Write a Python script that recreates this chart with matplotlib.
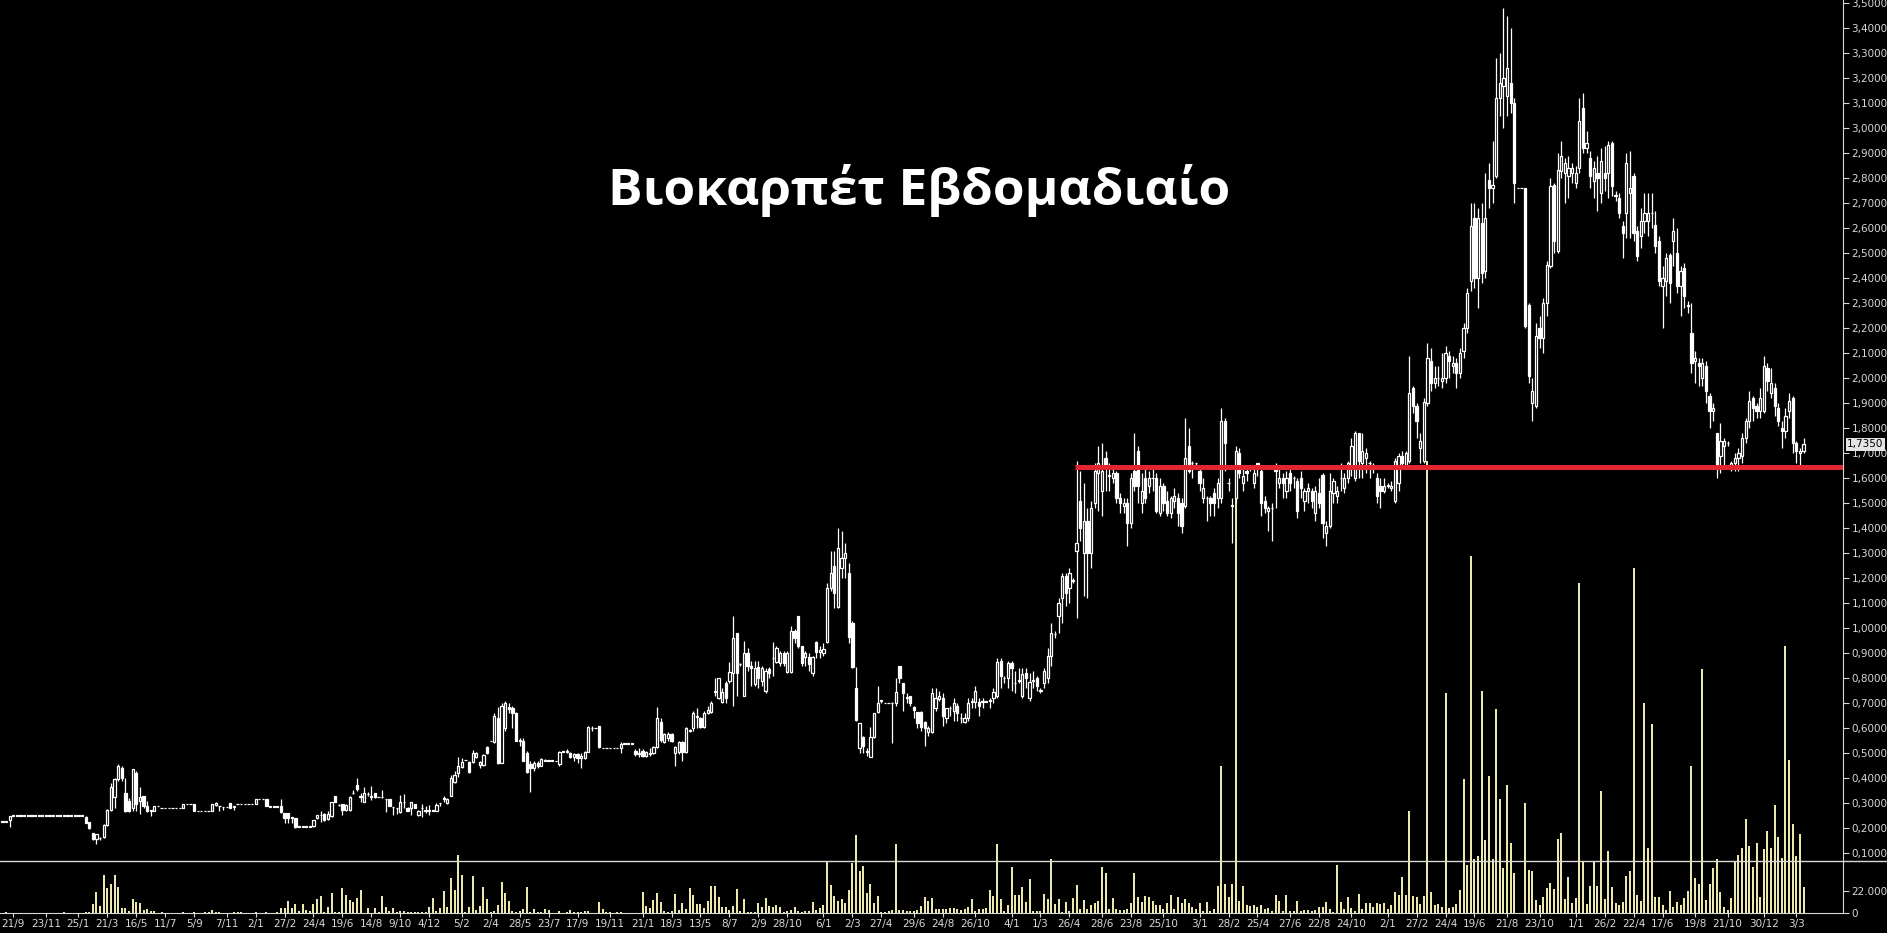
import numpy as np
import matplotlib.pyplot as plt

# weekly candles, first week starts 2015-08-31
start = np.datetime64('2015-08-31')

opens = [
    .225, .225, .232, .25, .25, .25, .25, .25, .25, .25,
    .25, .25, .25, .25, .25, .25, .25, .25, .25, .25,
    .25, .25, .25, .245, .225, .18, .155, .16, .163, .212,
    .272, .323, .396, .44, .34, .31, .281, .42, .31, .328,
    .29, .27, .27, .288, .28, .28, .28, .28, .28, .28,
    .28, .295, .295, .295, .268, .268, .268, .268, .27, .292,
    .288, .283, .283, .30, .285, .295, .295, .295, .295, .295,
    .295, .315, .315, .315, .285, .285, .285, .288, .262, .26,
    .241, .241, .205, .205, .205, .205, .208, .24, .252, .258,
    .235, .248, .328, .292, .295, .272, .272, .339, .372, .325,
    .305, .335, .325, .339, .323, .323, .316, .316, .283, .279,
    .265, .303, .281, .279, .295, .252, .279, .27, .27, .27,
    .27, .30, .318, .30, .33, .385, .419, .443, .472, .465,
    .465, .485, .452, .452, .525, .548, .545, .64, .46, .60,
    .685, .68, .66, .55, .55, .50, .455, .44, .46, .45,
    .47, .47, .47, .468, .455, .505, .505, .50, .485, .495,
    .48, .48, .505, .60, .60, .608, .519, .519, .519, .519,
    .519, .52, .538, .538, .538, .51, .495, .51, .49, .50,
    .50, .525, .625, .545, .56, .575, .50, .505, .545, .505,
    .59, .60, .645, .64, .605, .66, .665, .745, .72, .705,
    .78, .79, .82, .98, .856, .73, .90, .85, .775, .845,
    .79, .75, .835, .88, .865, .86, .90, .825, .825, .99,
    1.05, .93, .885, .885, .82, .945, .905, .90, .945, 1.16,
    1.25, 1.085, 1.24, 1.28, 1.22, 1.02, .762, .52, .565, .505,
    .485, .565, .665, .71, .70, .70, .70, .70, .848, .78,
    .72, .728, .685, .665, .665, .625, .585, .585, .68, .715,
    .72, .64, .68, .67, .69, .64, .625, .64, .705, .705,
    .705, .705, .705, .71, .72, .73, .87, .80, .80, .86,
    .78, .79, .73, .82, .72, .79, .80, .75, .78, .80,
    .89, .975, 1.05, 1.12, 1.21, 1.16, 1.19, 1.31, 1.51, 1.30,
    1.43, 1.30, 1.50, 1.62, 1.55, 1.68, 1.61, 1.60, 1.62, 1.52,
    1.49, 1.50, 1.42, 1.63, 1.71, 1.50, 1.60, 1.57, 1.60, 1.60,
    1.46, 1.57, 1.51, 1.46, 1.51, 1.52, 1.50, 1.49, 1.73, 1.66,
    1.66, 1.63, 1.52, 1.52, 1.52, 1.54, 1.52, 1.52, 1.83, 1.58,
    1.49, 1.52, 1.70, 1.58, 1.63, 1.64, 1.58, 1.66, 1.63, 1.51,
    1.47, 1.48, 1.63, 1.58, 1.60, 1.55, 1.62, 1.60, 1.59, 1.60,
    1.51, 1.55, 1.55, 1.46, 1.54, 1.61, 1.38, 1.41, 1.54, 1.53,
    1.60, 1.56, 1.60, 1.65, 1.60, 1.78, 1.66, 1.68, 1.66, 1.65,
    1.60, 1.57, 1.55, 1.57, 1.56, 1.51, 1.58, 1.69, 1.65, 1.67,
    1.96, 1.89, 1.72, 1.67, 1.90, 2.07, 1.98, 2.00, 1.99, 2.00,
    2.09, 2.05, 2.06, 2.02, 2.11, 2.20, 2.39, 2.64, 2.40, 2.62,
    2.43, 2.79, 2.76, 2.81, 3.12, 3.17, 3.13, 3.18, 3.10, 2.76,
    2.76, 2.76, 2.29, 1.90, 1.89, 2.20, 2.16, 2.30, 2.45, 2.77,
    2.51, 2.83, 2.82, 2.81, 2.82, 2.78, 2.84, 3.08, 2.92, 2.88,
    2.79, 2.82, 2.74, 2.82, 2.82, 2.94, 2.73, 2.72, 2.61, 2.66,
    2.74, 2.81, 2.59, 2.57, 2.63, 2.63, 2.66, 2.61, 2.55, 2.37,
    2.39, 2.49, 2.55, 2.50, 2.37, 2.44, 2.29, 2.18, 2.07, 2.06,
    2.00, 2.05, 1.93, 1.87, 1.78, 1.69, 1.73, 1.74, 1.65, 1.66,
    1.68, 1.69, 1.76, 1.83, 1.92, 1.89, 1.87, 1.87, 2.04, 1.94,
    1.96, 1.88, 1.80, 1.79, 1.87, 1.92, 1.74, 1.70, 1.71,
]

highs = [
    .225, .225, .25, .25, .25, .25, .25, .25, .25, .25,
    .25, .25, .25, .25, .25, .25, .25, .25, .25, .25,
    .25, .25, .25, .25, .225, .18, .178, .165, .215, .275,
    .38, .40, .456, .45, .40, .32, .435, .43, .365, .33,
    .31, .27, .29, .288, .28, .28, .28, .28, .28, .28,
    .295, .295, .295, .295, .268, .268, .268, .268, .295, .303,
    .29, .285, .283, .30, .287, .295, .295, .295, .295, .295,
    .315, .315, .315, .315, .285, .285, .285, .315, .262, .26,
    .241, .241, .205, .205, .205, .205, .232, .253, .268, .262,
    .27, .305, .33, .295, .295, .295, .33, .352, .399, .339,
    .365, .345, .368, .34, .323, .352, .318, .316, .285, .28,
    .332, .336, .283, .305, .296, .272, .296, .29, .292, .27,
    .30, .30, .328, .32, .412, .43, .485, .479, .472, .47,
    .512, .505, .47, .495, .53, .548, .66, .685, .70, .71,
    .70, .69, .665, .56, .56, .51, .47, .47, .47, .48,
    .475, .47, .47, .468, .51, .505, .515, .505, .50, .50,
    .50, .51, .608, .61, .60, .61, .519, .519, .519, .519,
    .519, .545, .538, .538, .538, .515, .52, .515, .51, .52,
    .53, .685, .64, .58, .585, .58, .53, .55, .55, .605,
    .595, .67, .68, .645, .67, .69, .71, .80, .80, .76,
    .79, .865, 1.05, .98, .86, .95, .92, .87, .87, .87,
    .85, .84, .845, .945, .93, .91, .91, .91, 1.01, .995,
    1.05, .93, .91, .90, .89, .95, .93, .94, 1.18, 1.31,
    1.31, 1.40, 1.39, 1.34, 1.26, 1.03, .845, .62, .57, .52,
    .605, .66, .77, .71, .70, .70, .705, .80, .85, .78,
    .74, .73, .69, .665, .67, .63, .61, .76, .76, .75,
    .74, .68, .69, .72, .70, .66, .66, .72, .72, .77,
    .72, .72, .705, .72, .76, .88, .88, .81, .87, .87,
    .83, .84, .84, .84, .82, .83, .81, .76, .84, .92,
    1.02, .99, 1.12, 1.22, 1.22, 1.24, 1.20, 1.67, 1.63, 1.58,
    1.48, 1.51, 1.66, 1.73, 1.74, 1.71, 1.66, 1.65, 1.63, 1.54,
    1.52, 1.52, 1.62, 1.78, 1.73, 1.62, 1.64, 1.63, 1.64, 1.62,
    1.60, 1.58, 1.55, 1.53, 1.56, 1.54, 1.52, 1.84, 1.80, 1.67,
    1.66, 1.65, 1.60, 1.53, 1.53, 1.56, 1.60, 1.88, 1.84, 1.60,
    1.52, 1.73, 1.72, 1.65, 1.64, 1.65, 1.64, 1.66, 1.64, 1.53,
    1.49, 1.50, 1.66, 1.64, 1.62, 1.63, 1.65, 1.61, 1.60, 1.63,
    1.56, 1.58, 1.56, 1.57, 1.60, 1.62, 1.43, 1.62, 1.60, 1.57,
    1.66, 1.62, 1.67, 1.76, 1.79, 1.78, 1.78, 1.72, 1.67, 1.66,
    1.62, 1.60, 1.60, 1.58, 1.59, 1.68, 1.70, 1.71, 1.71, 2.09,
    1.97, 1.90, 1.78, 1.92, 2.14, 2.12, 2.05, 2.05, 2.10, 2.13,
    2.11, 2.09, 2.08, 2.12, 2.22, 2.36, 2.70, 2.70, 2.68, 2.70,
    2.82, 2.86, 2.95, 3.28, 3.30, 3.48, 3.45, 3.40, 3.12, 2.76,
    2.76, 2.76, 2.30, 2.00, 2.22, 2.25, 2.32, 2.47, 2.80, 2.78,
    2.90, 2.95, 2.88, 2.89, 2.86, 2.85, 3.12, 3.14, 2.99, 2.91,
    2.87, 2.89, 2.92, 2.93, 2.95, 2.95, 2.75, 2.74, 2.63, 2.90,
    2.91, 2.82, 2.61, 2.68, 2.74, 2.74, 2.74, 2.67, 2.57, 2.45,
    2.50, 2.50, 2.64, 2.60, 2.45, 2.46, 2.31, 2.30, 2.11, 2.08,
    2.08, 2.07, 1.94, 1.90, 1.78, 1.82, 1.76, 1.75, 1.67, 1.70,
    1.72, 1.78, 1.84, 1.95, 1.93, 1.90, 1.96, 2.09, 2.06, 2.04,
    1.98, 1.90, 1.83, 1.88, 1.94, 1.93, 1.75, 1.72, 1.76,
]

lows = [
    .225, .225, .205, .25, .25, .25, .25, .25, .25, .25,
    .25, .25, .25, .25, .25, .25, .25, .25, .25, .25,
    .25, .25, .25, .22, .198, .152, .136, .152, .16, .21,
    .27, .279, .39, .39, .265, .265, .27, .27, .256, .28,
    .265, .248, .27, .288, .28, .28, .28, .28, .28, .28,
    .28, .295, .295, .27, .268, .268, .268, .268, .27, .29,
    .27, .272, .283, .279, .272, .295, .295, .295, .295, .295,
    .295, .315, .315, .288, .285, .285, .285, .262, .219, .22,
    .219, .20, .205, .205, .205, .205, .205, .237, .225, .23,
    .232, .243, .303, .29, .252, .27, .27, .335, .35, .305,
    .305, .33, .312, .32, .323, .32, .265, .288, .252, .258,
    .262, .279, .268, .252, .28, .25, .245, .26, .252, .27,
    .268, .29, .305, .298, .33, .38, .405, .44, .472, .42,
    .46, .48, .44, .45, .498, .548, .54, .455, .46, .59,
    .66, .60, .55, .53, .47, .42, .345, .43, .44, .45,
    .47, .47, .47, .468, .45, .505, .50, .48, .47, .46,
    .44, .475, .505, .59, .60, .52, .519, .519, .519, .519,
    .519, .50, .538, .538, .538, .49, .485, .485, .485, .49,
    .495, .52, .545, .54, .55, .545, .45, .495, .47, .50,
    .585, .59, .60, .60, .60, .655, .66, .73, .715, .70,
    .70, .78, .69, .73, .85, .73, .83, .77, .77, .76,
    .77, .74, .80, .81, .86, .85, .85, .82, .82, .94,
    .92, .85, .85, .83, .81, .88, .88, .89, .94, 1.15,
    1.08, 1.08, 1.20, 1.20, .94, .84, .63, .50, .50, .49,
    .485, .56, .66, .70, .70, .70, .54, .69, .78, .67,
    .70, .69, .64, .60, .59, .53, .57, .58, .67, .71,
    .61, .62, .65, .63, .63, .62, .62, .63, .68, .68,
    .65, .68, .705, .68, .70, .72, .76, .78, .76, .75,
    .74, .78, .72, .76, .71, .76, .75, .74, .76, .78,
    .85, .96, .98, 1.02, 1.09, 1.10, 1.18, 1.04, 1.35, 1.13,
    1.12, 1.24, 1.48, 1.47, 1.45, 1.55, 1.55, 1.58, 1.50, 1.46,
    1.46, 1.33, 1.40, 1.55, 1.50, 1.46, 1.50, 1.54, 1.55, 1.46,
    1.45, 1.47, 1.45, 1.44, 1.48, 1.41, 1.38, 1.48, 1.62, 1.60,
    1.64, 1.55, 1.50, 1.43, 1.45, 1.45, 1.48, 1.50, 1.63, 1.55,
    1.34, 1.50, 1.60, 1.55, 1.59, 1.63, 1.56, 1.61, 1.45, 1.46,
    1.39, 1.35, 1.48, 1.56, 1.52, 1.52, 1.55, 1.56, 1.44, 1.52,
    1.47, 1.50, 1.48, 1.43, 1.48, 1.36, 1.33, 1.40, 1.50, 1.50,
    1.55, 1.54, 1.58, 1.61, 1.59, 1.60, 1.60, 1.62, 1.60, 1.62,
    1.50, 1.48, 1.54, 1.56, 1.55, 1.50, 1.55, 1.64, 1.64, 1.66,
    1.86, 1.76, 1.66, 1.66, 1.89, 1.95, 1.96, 1.97, 1.96, 1.98,
    2.00, 2.02, 1.96, 2.00, 2.08, 2.18, 2.35, 2.36, 2.28, 2.38,
    2.40, 2.68, 2.70, 2.80, 3.05, 3.00, 3.05, 3.06, 2.70, 2.76,
    2.76, 2.20, 1.98, 1.83, 1.88, 2.12, 2.10, 2.25, 2.44, 2.50,
    2.50, 2.80, 2.70, 2.72, 2.78, 2.76, 2.82, 2.90, 2.90, 2.76,
    2.72, 2.67, 2.70, 2.75, 2.72, 2.73, 2.71, 2.64, 2.48, 2.56,
    2.56, 2.55, 2.47, 2.52, 2.58, 2.57, 2.60, 2.50, 2.37, 2.20,
    2.33, 2.30, 2.45, 2.34, 2.25, 2.28, 2.26, 2.02, 1.98, 1.97,
    1.97, 1.90, 1.80, 1.83, 1.60, 1.62, 1.64, 1.73, 1.63, 1.63,
    1.63, 1.66, 1.74, 1.80, 1.83, 1.84, 1.84, 1.86, 1.95, 1.92,
    1.85, 1.81, 1.72, 1.76, 1.84, 1.70, 1.66, 1.64, 1.70,
]

closes = [
    .225, .225, .248, .25, .25, .25, .25, .25, .25, .25,
    .25, .25, .25, .25, .25, .25, .25, .25, .25, .25,
    .25, .25, .25, .222, .20, .155, .175, .16, .212, .272,
    .363, .396, .448, .40, .27, .27, .435, .295, .325, .288,
    .27, .27, .288, .288, .28, .28, .28, .28, .28, .28,
    .295, .295, .295, .27, .268, .268, .268, .268, .295, .30,
    .288, .283, .283, .279, .285, .295, .295, .295, .295, .295,
    .315, .315, .315, .288, .285, .285, .285, .265, .241, .24,
    .241, .205, .205, .205, .205, .205, .232, .253, .252, .232,
    .255, .305, .305, .292, .272, .292, .323, .339, .355, .325,
    .339, .335, .325, .323, .323, .323, .316, .29, .283, .279,
    .303, .303, .27, .303, .281, .27, .279, .27, .27, .27,
    .292, .30, .318, .318, .399, .412, .448, .465, .472, .425,
    .50, .50, .465, .492, .50, .548, .648, .46, .69, .70,
    .675, .66, .55, .55, .47, .425, .44, .46, .45, .475,
    .47, .47, .47, .468, .505, .505, .505, .485, .495, .48,
    .49, .505, .605, .60, .60, .525, .519, .519, .519, .519,
    .519, .535, .538, .538, .538, .495, .50, .49, .505, .495,
    .525, .64, .552, .575, .575, .55, .525, .545, .505, .60,
    .59, .66, .645, .605, .66, .672, .70, .745, .80, .745,
    .72, .825, .96, .82, .856, .90, .85, .84, .84, .80,
    .84, .83, .82, .88, .92, .90, .86, .90, .99, .96,
    .93, .86, .90, .855, .885, .905, .912, .915, 1.16, 1.22,
    1.14, 1.32, 1.28, 1.30, .965, .845, .632, .62, .53, .505,
    .565, .66, .70, .71, .70, .70, .70, .745, .80, .74,
    .725, .70, .672, .62, .605, .60, .60, .74, .72, .73,
    .65, .68, .68, .70, .66, .64, .64, .70, .705, .75,
    .69, .705, .705, .71, .745, .866, .81, .80, .86, .84,
    .78, .79, .818, .80, .785, .79, .77, .75, .83, .89,
    .98, .975, 1.10, 1.21, 1.14, 1.22, 1.19, 1.34, 1.40, 1.43,
    1.30, 1.48, 1.63, 1.66, 1.63, 1.65, 1.61, 1.62, 1.52, 1.50,
    1.50, 1.42, 1.60, 1.57, 1.57, 1.55, 1.52, 1.60, 1.60, 1.47,
    1.57, 1.50, 1.46, 1.52, 1.53, 1.46, 1.41, 1.68, 1.63, 1.66,
    1.66, 1.58, 1.56, 1.52, 1.50, 1.50, 1.58, 1.83, 1.74, 1.58,
    1.49, 1.71, 1.62, 1.61, 1.62, 1.64, 1.62, 1.64, 1.50, 1.48,
    1.48, 1.48, 1.63, 1.60, 1.58, 1.60, 1.58, 1.60, 1.47, 1.56,
    1.55, 1.56, 1.51, 1.55, 1.50, 1.42, 1.41, 1.55, 1.59, 1.55,
    1.60, 1.60, 1.66, 1.73, 1.78, 1.67, 1.71, 1.70, 1.66, 1.65,
    1.53, 1.55, 1.57, 1.57, 1.57, 1.67, 1.69, 1.66, 1.70, 1.94,
    1.89, 1.83, 1.75, 1.905, 2.08, 1.98, 2.00, 2.00, 2.00, 2.10,
    2.07, 2.06, 2.02, 2.10, 2.20, 2.34, 2.61, 2.40, 2.64, 2.42,
    2.64, 2.76, 2.77, 3.12, 3.18, 3.20, 3.24, 3.10, 2.78, 2.76,
    2.76, 2.21, 2.01, 1.95, 2.17, 2.16, 2.30, 2.45, 2.77, 2.55,
    2.83, 2.89, 2.86, 2.84, 2.84, 2.82, 3.03, 2.92, 2.94, 2.81,
    2.84, 2.80, 2.87, 2.80, 2.93, 2.77, 2.73, 2.66, 2.58, 2.86,
    2.76, 2.58, 2.49, 2.63, 2.66, 2.66, 2.66, 2.53, 2.39, 2.40,
    2.48, 2.38, 2.59, 2.37, 2.43, 2.33, 2.29, 2.06, 2.08, 2.05,
    2.06, 1.95, 1.87, 1.88, 1.64, 1.75, 1.75, 1.74, 1.66, 1.68,
    1.70, 1.76, 1.83, 1.91, 1.88, 1.87, 1.92, 2.05, 1.99, 1.98,
    1.89, 1.83, 1.79, 1.85, 1.91, 1.74, 1.71, 1.71, 1.735,
]

# weekly volume, thousands of shares
volume_k = [
    0, 1, 0, 0, 0, 0, 0, 0, 0, 0,
    0, 0, 0, 0, 0, 0, 0, 1, 0, 0,
    0, 0, 0, 1, 1, 9, 21, 7, 38, 25,
    29, 38, 26, 5, 5, 2, 14, 11, 10, 3,
    4, 2, 2, 0, 1, 0, 0, 0, 0, 0,
    1, 0, 0, 1, 0, 0, 1, 1, 3, 1.5,
    1, 0, 0, 0, 1.5, 1, 1.5, 0, 0, 0,
    1, 0, 0, 1, 0, 0, 1, 5, 5, 12,
    5, 9, 2, 9, 3, 2, 9, 14, 17, 1,
    6, 20, 1, 1, 25, 18, 13, 11, 15, 23,
    0, 5, 0, 5, 1, 17, 6, 2, 5, 1,
    2, 2, 1, 1, 1, 1, 1, 1, 6, 15,
    2, 5, 22, 6, 35, 23, 58, 38, 1, 6,
    37, 3, 7, 26, 14, 1, 2, 8, 31, 20,
    12, 2, 1, 2, 4, 26, 1, 4, 1, 1,
    4, 3, 0, 0, 2, 0, 1, 3, 1, 1,
    1, 2, 2, 0, 0, 11, 4, 1, 1, 0,
    1, 1, 0, 0, 0, 0, 0, 21, 7, 5,
    13, 20, 11, 2, 1, 2, 19, 3, 10, 4,
    25, 18, 9, 9, 5, 12, 27, 27, 16, 6,
    6, 3, 7, 24, 2, 14, 1, 1, 1, 10,
    6, 15, 7, 6, 8, 6, 1, 2, 3, 6,
    2, 1, 2, 2, 11, 3, 5, 8, 52, 28,
    17, 12, 14, 10, 23, 50, 78, 42, 47, 20,
    29, 10, 17, 1, 1, 2, 3, 69, 3, 3,
    2, 2, 2, 3, 7, 16, 12, 15, 4, 4,
    4, 4, 5, 5, 4, 3, 4, 6, 14, 2,
    4, 4, 5, 23, 17, 69, 14, 2, 8, 46,
    18, 18, 26, 11, 34, 2, 2, 2, 19, 14,
    54, 9, 14, 1, 11, 2, 15, 28, 4, 13,
    4, 8, 10, 12, 46, 40, 4, 15, 4, 3,
    3, 4, 10, 40, 16, 11, 17, 16, 12, 8,
    8, 4, 10, 18, 4, 16, 10, 14, 10, 6,
    4, 10, 2, 11, 2, 4, 27, 147, 29, 16,
    29, 420, 12, 27, 8, 7, 8, 6, 8, 4,
    5, 2, 18, 12, 2, 18, 2, 2, 12, 2,
    3, 3, 2, 3, 6, 6, 11, 4, 1, 48,
    11, 4, 16, 5, 2, 19, 4, 10, 10, 6,
    10, 9, 10, 4, 8, 21, 18, 36, 18, 102,
    17, 16, 9, 17, 452, 21, 8, 9, 6, 220,
    5, 6, 9, 23, 134, 48, 357, 54, 57, 222,
    73, 137, 54, 204, 114, 45, 128, 70, 40, 0,
    0, 110, 43, 42, 13, 8, 16, 25, 30, 24,
    74, 80, 14, 36, 10, 15, 330, 52, 9, 27,
    51, 27, 122, 14, 62, 26, 10, 8, 11, 37,
    42, 345, 18, 12, 210, 65, 189, 16, 16, 8,
    3, 22, 6, 11, 8, 15, 22, 147, 35, 29,
    244, 13, 29, 45, 54, 21, 6, 3, 15, 52,
    58, 65, 94, 67, 46, 70, 16, 64, 82, 65,
    108, 76, 55, 267, 153, 89, 57, 79, 26,
]

tick_dates = [
    '2015-09-21', '2015-11-23', '2016-01-25', '2016-03-21', '2016-05-16',
    '2016-07-11', '2016-09-05', '2016-11-07', '2017-01-02', '2017-02-27',
    '2017-04-24', '2017-06-19', '2017-08-14', '2017-10-09', '2017-12-04',
    '2018-02-05', '2018-04-02', '2018-05-28', '2018-07-23', '2018-09-17',
    '2018-11-19', '2019-01-21', '2019-03-18', '2019-05-13', '2019-07-08',
    '2019-09-02', '2019-10-28', '2020-01-06', '2020-03-02', '2020-04-27',
    '2020-06-29', '2020-08-24', '2020-10-26', '2021-01-04', '2021-03-01',
    '2021-04-26', '2021-06-28', '2021-08-23', '2021-10-25', '2022-01-03',
    '2022-02-28', '2022-04-25', '2022-06-27', '2022-08-22', '2022-10-24',
    '2023-01-02', '2023-02-27', '2023-04-24', '2023-06-19', '2023-08-21',
    '2023-10-23', '2024-01-01', '2024-02-26', '2024-04-22', '2024-06-17',
    '2024-08-19', '2024-10-21', '2024-12-30', '2025-03-03',
]

price_ticks = np.round(np.arange(0.1, 3.51, 0.1), 1)
last_price = 1.735
support = 1.645
support_from = '2021-05-10'
title = 'Βιοκαρπέτ Εβδομαδιαίο'

o = np.array(opens)
h = np.array(highs)
l = np.array(lows)
c = np.array(closes)
x = np.arange(len(c))
up = c >= o

fg = '#d8d8d8'
fig = plt.figure(figsize=(18.87, 9.33), dpi=100, facecolor='black')
ax = fig.add_axes([0, 20 / 933, 1843 / 1887, 913 / 933])
vax = ax.twinx()
ax.set_zorder(vax.get_zorder() + 1)
ax.patch.set_visible(False)
vax.set_facecolor('black')

# volume (bars are not clipped to the lower pane in the original)
vax.vlines(x, 0, volume_k, color='#f3efb2', lw=1.4)
vax.set_ylim(0, 913)
vax.set_yticks([0, 22], ['0', '22.000'])

# candles
body_lo = np.minimum(o, c)
body_h = np.maximum(np.abs(c - o), 0.002)
ax.vlines(x, l, h, color='white', lw=0.9, zorder=2)
ax.bar(x[up], body_h[up], bottom=body_lo[up], width=0.62,
       facecolor='black', edgecolor='white', lw=0.9, zorder=3)
ax.bar(x[~up], body_h[~up], bottom=body_lo[~up], width=0.62,
       facecolor='white', edgecolor='white', lw=0.9, zorder=3)

xmax = 508.9
ax.set_xlim(-0.68, xmax)
ax.set_ylim(-0.14, 3.512)

sup_x = (np.datetime64(support_from) - start).astype(int) / 7
ax.hlines(support, sup_x - 0.5, xmax, color='#e3262e', lw=3.6, zorder=4)

ax.yaxis.tick_right()
ax.set_yticks(price_ticks, [f'{v:.4f}'.replace('.', ',') for v in price_ticks])

td = np.array(tick_dates, dtype='datetime64[D]')
tpos = (td - start).astype(int) / 7
tlab = [f'{d.day}/{d.month}' for d in td.astype(object)]
ax.set_xticks(tpos, tlab)

for a in (ax, vax):
    a.tick_params(colors=fg, labelsize=7.5, length=4, width=0.8, pad=2)
    for s in a.spines.values():
        s.set_visible(False)
ax.tick_params(axis='x', length=3, pad=1.5)
ax.spines['right'].set_visible(True)
ax.spines['bottom'].set_visible(True)
ax.spines['right'].set_color(fg)
ax.spines['bottom'].set_color(fg)

# separator between price and volume panes
ysep = (933 - 861) / 933
fig.add_artist(plt.Line2D([0, 1], [ysep, ysep], color=fg, lw=1))

ax.annotate(f'{last_price:.4f}'.replace('.', ','), xy=(1, last_price),
            xycoords=('axes fraction', 'data'), xytext=(3, 0),
            textcoords='offset points', ha='left', va='center',
            fontsize=7.5, color='black', annotation_clip=False, zorder=6,
            bbox=dict(boxstyle='square,pad=0.15', fc='#e4e4e4', ec='none'))

fig.text(0.487, 0.796, title, ha='center', va='center', color='white',
         fontsize=37, fontweight='bold', family='Open Sans')

fig.savefig('out.png', dpi=100, facecolor='black')
